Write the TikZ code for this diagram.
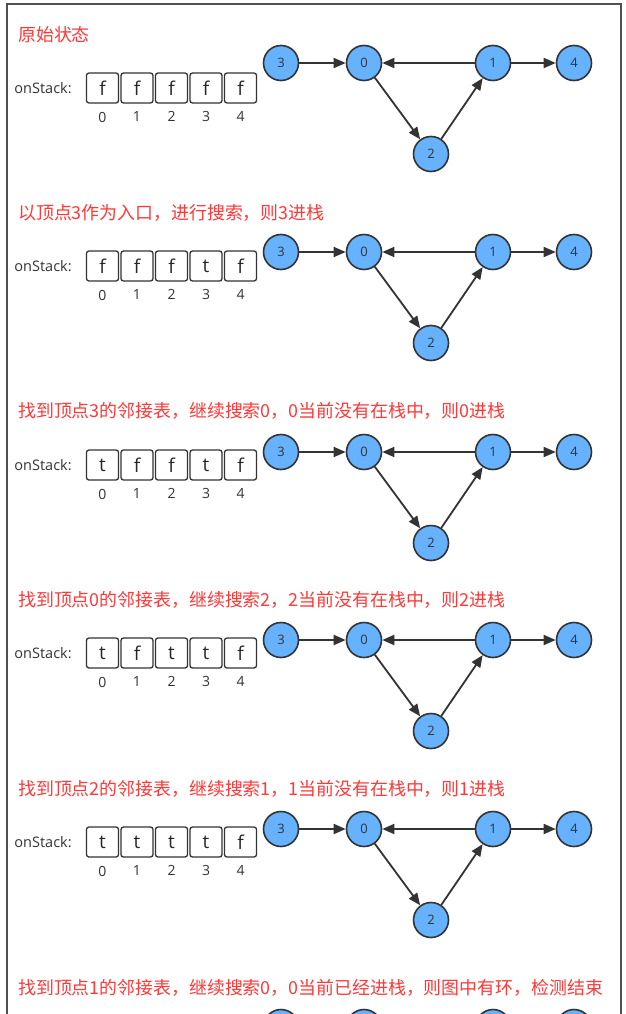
\documentclass[tikz,border=0pt]{standalone}
\usepackage{fontspec}
\setmainfont{Open Sans}
\newfontfamily\cjk{Noto Sans CJK SC}
\usetikzlibrary{arrows.meta,positioning}
\definecolor{inkgray}{HTML}{333333}
\definecolor{framegray}{HTML}{505050}
\definecolor{vertexblue}{HTML}{66B2FF}
\definecolor{notered}{HTML}{FF3838}
\tikzset{vertex/.style={circle,draw=inkgray,fill=vertexblue,line width=1.6pt,minimum size=35pt,inner sep=0pt,text=inkgray,font=\fontsize{13}{13}\selectfont},
  arc/.style={draw=inkgray,line width=1.8pt,-{Triangle[length=12pt,width=10pt]}},
  flagbox/.style={draw=inkgray,rounded corners=2.5pt,line width=1.3pt,minimum width=32pt,minimum height=30pt,inner sep=0pt,text=black!85,font=\fontsize{19}{19}\selectfont},
  indexlabel/.style={inner sep=0pt,text=inkgray,font=\fontsize{14}{14}\selectfont},
  stacklabel/.style={inner sep=0pt,text=inkgray,font=\fontsize{14.5}{14.5}\selectfont},
  steptitle/.style={anchor=west,inner sep=0pt,text=notered,font=\cjk\fontsize{17.9}{20}\selectfont}}
\begin{document}
\begin{tikzpicture}[x=1pt,y=-1pt]
\clip (0,0) rectangle (626,1014);
\fill[white] (0,0) rectangle (626,1014);
\draw[framegray,line width=1.7pt] (7,1020) -- (7,4) -- (621,4) -- (621,1020);
% one panel per search step
\foreach \p/\ty/\ry/\ay/\sa/\sb/\sc/\sd/\se/\txt in {
  1/35/63/88/f/f/f/f/f/原始状态,
  2/213/252/266/f/f/f/t/f/以顶点3作为入口，进行搜索，则3进栈,
  3/411/452/465/t/f/f/t/f/找到顶点3的邻接表，继续搜索0，0当前没有在栈中，则0进栈,
  4/600/640/653/t/f/t/t/f/找到顶点0的邻接表，继续搜索2，2当前没有在栈中，则2进栈,
  5/789/829/842/t/t/t/t/f/找到顶点2的邻接表，继续搜索1，1当前没有在栈中，则1进栈} {
  \node[steptitle] (title\p) at (18,\ty) {\txt};
  \foreach \k/\v in {0/\sa,1/\sb,2/\sc,3/\sd,4/\se} {
    \node[flagbox] (flag\p-\k) at (102.5+34.5*\k,\ay) {\v};
    \node[indexlabel,below=8pt of flag\p-\k] (idx\p-\k) {\k};}
  \node[stacklabel,left=14pt of flag\p-0] (stack\p) {onStack:};
  \node[vertex] (v\p-3) at (281,\ry) {3};
  \node[vertex] (v\p-0) at (364,\ry) {0};
  \node[vertex] (v\p-1) at (493,\ry) {1};
  \node[vertex] (v\p-4) at (574,\ry) {4};
  \node[vertex] (v\p-2) at (431,\ry+91) {2};
  \draw[arc] (v\p-3) -- (v\p-0);
  \draw[arc] (v\p-1) -- (v\p-0);
  \draw[arc] (v\p-1) -- (v\p-4);
  \draw[arc] (v\p-0) -- (v\p-2);
  \draw[arc] (v\p-2) -- (v\p-1);
}
% last step, cut off by the page
\node[steptitle] (title6) at (18,988) {找到顶点1的邻接表，继续搜索0，0当前已经进栈，则图中有环，检测结束};
\node[vertex] (v6-3) at (281,1027) {};
\node[vertex] (v6-0) at (364,1027) {};
\node[vertex] (v6-1) at (493,1027) {};
\node[vertex] (v6-4) at (574,1027) {};
\draw[arc] (v6-3) -- (v6-0);
\draw[arc] (v6-1) -- (v6-0);
\draw[arc] (v6-1) -- (v6-4);
\end{tikzpicture}
\end{document}
